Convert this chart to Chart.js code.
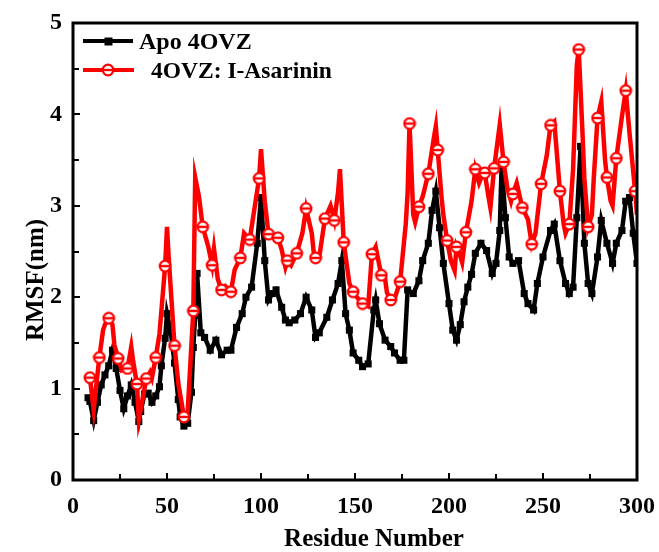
<!DOCTYPE html>
<html><head><meta charset="utf-8">
<script src="https://cdn.jsdelivr.net/npm/chart.js@4.4.0/dist/chart.umd.min.js"></script>
<style>html,body{margin:0;padding:0;background:#fff}#wrap{width:659px;height:552px}</style>
</head><body><div id="wrap"><canvas id="c" width="659" height="552"></canvas></div>
<script>
// ---- data ----
const seriesNames = ['Apo 4OVZ', '4OVZ: I-Asarinin'];
const xAxisTitle = 'Residue Number';
const yAxisTitle = 'RMSF(nm)';
const xTickValues = [0, 50, 100, 150, 200, 250, 300];
const yTickValues = [0, 1, 2, 3, 4, 5];

const apoResidues = [8,9,11,13,15,17,19,21,23,25,27,29,31,33,35,36,38,40,42,44,46,47,49,50,52,54,56,57,59,61,63,64,65,66,68,70,73,76,79,82,84,87,90,92,95,98,100,102,104,106,108,111,113,115,118,121,124,127,129,131,135,138,141,143,145,147,149,152,154,157,160,161,163,166,169,171,174,176,178,181,184,186,189,191,193,195,197,200,202,204,206,208,210,212,214,217,220,223,225,227,228,230,232,234,237,240,242,245,247,250,254,256,259,262,264,266,268,270,272,274,276,279,281,284,287,289,292,294,296,298,300];
const apoRmsf =     [0.90,0.86,0.65,0.85,1.04,1.15,1.25,1.42,1.22,0.98,0.78,0.92,1.04,0.85,0.64,0.75,0.94,0.95,0.85,0.92,1.02,1.25,1.55,1.82,1.62,1.28,0.88,0.69,0.59,0.62,0.96,1.45,1.80,2.26,1.61,1.56,1.42,1.53,1.37,1.42,1.42,1.67,1.82,2.00,2.11,2.59,3.09,2.40,1.97,2.04,2.08,1.89,1.75,1.72,1.75,1.82,2.00,1.86,1.56,1.61,1.78,1.97,2.15,2.40,1.82,1.64,1.39,1.31,1.24,1.27,1.86,1.97,1.71,1.53,1.46,1.39,1.31,1.31,2.08,2.04,2.18,2.40,2.59,2.95,3.16,2.76,2.37,1.93,1.64,1.53,1.70,1.95,2.11,2.25,2.48,2.59,2.51,2.26,2.37,2.73,3.45,2.87,2.44,2.37,2.40,2.04,1.93,1.86,2.15,2.44,2.73,2.80,2.40,2.15,2.04,2.11,2.87,3.65,2.59,2.15,2.04,2.44,2.84,2.59,2.37,2.59,2.73,3.05,3.09,2.70,2.37];

const ligResidues = [9,11,14,16,17,19,21,22,24,26,29,31,32,34,35,39,41,42,44,46,49,50,51,54,56,59,61,64,65,67,69,72,74,75,77,79,81,84,86,89,91,94,96,99,100,102,104,107,109,111,113,114,116,119,122,124,127,128,129,131,134,137,139,141,142,144,147,149,151,154,157,159,161,164,166,167,169,171,174,177,178,179,181,182,184,186,189,192,193,194,196,197,199,201,203,204,206,207,209,212,214,216,217,219,221,222,224,227,229,231,233,234,236,239,242,244,246,249,252,254,256,259,261,262,264,266,268,269,271,272,274,276,277,279,281,283,284,286,287,289,292,294,296,299,300];
const ligRmsf =     [1.12,0.77,1.34,1.64,1.70,1.77,1.70,1.48,1.33,1.20,1.22,1.46,1.30,1.05,0.66,1.11,1.18,1.12,1.34,1.60,2.34,2.77,2.40,1.47,1.06,0.69,0.75,1.85,3.31,3.10,2.77,2.55,2.35,2.53,2.20,2.08,2.12,2.06,2.30,2.43,2.70,2.63,2.90,3.30,3.62,3.05,2.69,2.68,2.65,2.52,2.33,2.40,2.35,2.48,2.70,2.97,2.70,2.50,2.43,2.44,2.86,3.00,2.84,3.15,3.40,2.60,2.15,2.06,2.00,1.93,1.90,2.47,2.55,2.24,2.20,2.05,1.97,1.98,2.17,2.80,3.15,3.90,2.90,2.82,2.99,3.10,3.35,3.75,3.87,3.61,3.10,2.90,2.62,2.40,2.29,2.55,2.45,2.38,2.71,3.05,3.40,3.25,3.30,3.36,3.10,2.98,3.41,3.89,3.48,3.20,3.05,3.13,3.25,2.98,2.85,2.58,2.70,3.24,3.55,3.88,3.92,3.16,2.80,2.70,2.80,3.40,4.54,4.71,3.80,3.30,2.77,2.90,3.30,3.96,4.14,3.50,3.31,3.05,3.00,3.52,3.98,4.26,3.80,3.16,2.90];
const markerEvery = 5, markerOffset = 4;

// ---- styling ----
const FONT = '"Liberation Serif", "Times New Roman", serif';
function ringMarker() {
  const c = document.createElement('canvas'); c.width = 14; c.height = 14;
  const g = c.getContext('2d');
  g.beginPath(); g.arc(7, 7, 5.3, 0, Math.PI * 2);
  g.fillStyle = '#fff'; g.fill();
  g.lineWidth = 2.2; g.strokeStyle = '#ff0000'; g.stroke();
  g.beginPath(); g.moveTo(1.5, 7); g.lineTo(12.5, 7); g.lineWidth = 2.4; g.stroke();
  return c;
}
const redMarker = ringMarker();

const framePlugin = {
  id: 'frame',
  afterDraw(chart) {
    const {ctx, chartArea: {left, right, top, bottom}, scales: {x, y}} = chart;
    ctx.save();
    ctx.strokeStyle = '#000';
    ctx.lineWidth = 2;
    for (let v = 0.5; v < 5; v += 0.5) {
      const p = Math.round(y.getPixelForValue(v));
      ctx.beginPath(); ctx.moveTo(left, p); ctx.lineTo(left + (v % 1 === 0 ? 7 : 6), p); ctx.stroke();
    }
    for (let v = 25; v < 300; v += 25) {
      const p = Math.round(x.getPixelForValue(v));
      ctx.beginPath(); ctx.moveTo(p, bottom); ctx.lineTo(p, bottom - (v % 50 === 0 ? 7 : 6)); ctx.stroke();
    }
    ctx.lineWidth = 3;
    ctx.strokeRect(left, top, right - left, bottom - top);
    // legend
    ctx.lineWidth = 4;
    ctx.strokeStyle = '#000';
    ctx.beginPath(); ctx.moveTo(83, 41); ctx.lineTo(133, 41); ctx.stroke();
    ctx.fillStyle = '#000'; ctx.fillRect(104.5, 37.5, 8, 8);
    ctx.strokeStyle = '#ff0000';
    ctx.beginPath(); ctx.moveTo(83, 70); ctx.lineTo(134, 70); ctx.stroke();
    ctx.drawImage(redMarker, 108 - 7, 70 - 7);
    ctx.fillStyle = '#000';
    ctx.font = 'bold 24px ' + FONT;
    ctx.textBaseline = 'alphabetic';
    ctx.fillText(seriesNames[0], 139, 49);
    ctx.font = 'bold 23.5px ' + FONT;
    ctx.fillText(seriesNames[1], 151, 78);
    // axis titles
    ctx.font = 'bold 25px ' + FONT;
    ctx.textAlign = 'center';
    ctx.textBaseline = 'middle';
    ctx.fillText(xAxisTitle, 374, 540);
    ctx.translate(37, 280);
    ctx.rotate(-Math.PI / 2);
    ctx.fillText(yAxisTitle, 0, 0);
    ctx.restore();
  }
};

new Chart(document.getElementById('c'), {
  type: 'line',
  data: {
    datasets: [
      {
        label: seriesNames[0],
        data: apoResidues.map((r, i) => ({x: r, y: apoRmsf[i]})),
        borderColor: '#000', backgroundColor: '#000',
        borderWidth: 4.5, tension: 0,
        pointStyle: 'rect', pointRadius: 5, pointBorderWidth: 0,
        order: 2
      },
      {
        label: seriesNames[1],
        data: ligResidues.map((r, i) => ({x: r, y: ligRmsf[i]})),
        borderColor: '#ff0000', backgroundColor: '#ff0000',
        borderWidth: 4.5, tension: 0,
        pointStyle: redMarker,
        pointRadius: ctx => (ligResidues[ctx.dataIndex] % markerEvery === markerOffset ? 6 : 0),
        order: 1
      }
    ]
  },
  options: {
    responsive: false, animation: false, devicePixelRatio: 1, events: [],
    layout: {padding: {left: 0, right: 22, top: 23, bottom: 0}},
    plugins: {legend: {display: false}, tooltip: {enabled: false}},
    scales: {
      x: {
        type: 'linear', min: 0, max: 300,
        afterBuildTicks: s => { s.ticks = xTickValues.map(v => ({value: v})); },
        grid: {display: false, drawTicks: false}, border: {display: false},
        ticks: {color: '#000', padding: 12, maxRotation: 0, font: {family: FONT, size: 24, weight: 'bold'}},
        title: {display: false},
        afterFit: s => { s.height = 72; s.paddingLeft = 0; s.paddingRight = 0; }
      },
      y: {
        min: 0, max: 5,
        afterBuildTicks: s => { s.ticks = yTickValues.map(v => ({value: v})); },
        grid: {display: false, drawTicks: false}, border: {display: false},
        ticks: {color: '#000', padding: 11, font: {family: FONT, size: 24, weight: 'bold'}},
        title: {display: false},
        afterFit: s => { s.width = 73; s.paddingTop = 0; s.paddingBottom = 0; }
      }
    }
  },
  plugins: [framePlugin]
});
</script></body></html>
